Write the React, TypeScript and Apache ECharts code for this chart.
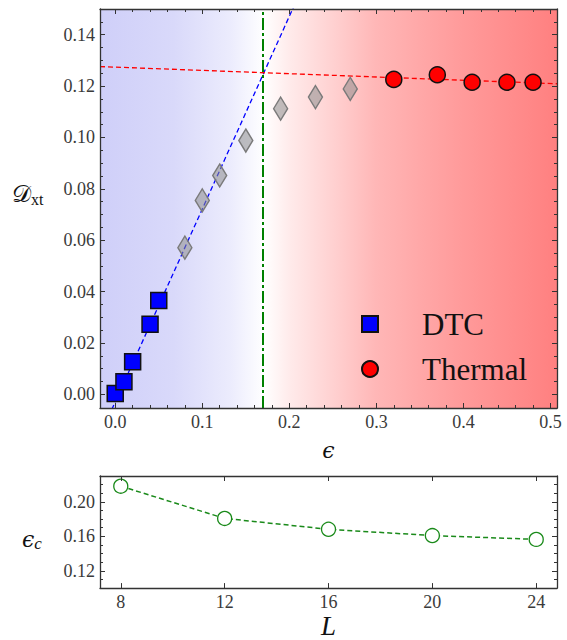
import React, { useEffect, useRef } from "react";
import * as echarts from "echarts";

// ---------- data ----------
const dtcEps = [0.0, 0.01, 0.02, 0.04, 0.05];
const dtcD = [0.0003, 0.0049, 0.0127, 0.0273, 0.0365];
const crossEps = [0.08, 0.1, 0.12, 0.15, 0.19, 0.23, 0.27];
const crossD = [0.0571, 0.0755, 0.0852, 0.0988, 0.1112, 0.1157, 0.1189];
const thermalEps = [0.32, 0.37, 0.41, 0.45, 0.48];
const thermalD = [0.1226, 0.1244, 0.1215, 0.1215, 0.1215];
const dtcFitEps = [-0.004, 0.205];
const dtcFitD = [-0.0059, 0.1509];
const thermalFitEps = [-0.0175, 0.5075];
const thermalFitD = [0.1276, 0.1209];
const epsCritical = 0.171;

const sizesL = [8, 12, 16, 20, 24];
const epsC = [0.2182, 0.1808, 0.1682, 0.1609, 0.1565];

// ---------- ticks ----------
const topXTicks = [0, 0.1, 0.2, 0.3, 0.4, 0.5];
const topYTicks = [0, 0.02, 0.04, 0.06, 0.08, 0.1, 0.12, 0.14];
const botXTicks = [8, 12, 16, 20, 24];
const botYTicks = [0.12, 0.16, 0.2];
const stepList = (a: number, b: number, s: number) => {
  const out: number[] = [];
  for (let i = 0; a + i * s <= b + 1e-9; i++) out.push(+(a + i * s).toFixed(4));
  return out;
};
const topXMinor = stepList(0, 0.5, 0.02);
const topYMinor = stepList(0, 0.145, 0.005);
const botYMinor = stepList(0.11, 0.22, 0.01);

const TOP_X = [-0.0175, 0.5075];
const TOP_Y = [-0.0053, 0.15];
const BOT_X = [7.2, 24.8];
const BOT_Y = [0.1, 0.23];

const SERIF = "Liberation Serif";
const MATH = "DejaVu Serif";
const AX = "#333";

function mkAxis(
  gridIndex: number,
  position: string,
  range: number[],
  ticks: number[],
  len: number,
  labelDigits: number | null,
  showLine: boolean
) {
  return {
    type: "value",
    gridIndex,
    position,
    min: range[0],
    max: range[1],
    z: 10,
    scale: true,
    axisLine: { show: showLine, onZero: false, lineStyle: { color: AX, width: 1.3 } },
    axisTick: {
      show: true,
      inside: true,
      length: len,
      customValues: ticks,
      lineStyle: { color: AX, width: 1 },
    },
    axisLabel:
      labelDigits === null
        ? { show: false }
        : {
            show: true,
            customValues: ticks,
            formatter: (v: number) => v.toFixed(labelDigits),
            fontFamily: SERIF,
            fontSize: 18,
            color: "#3a3a3a",
            margin: 5,
          },
    splitLine: { show: false },
    minorTick: { show: false },
  };
}

export default function App() {
  const ref = useRef<HTMLDivElement>(null);
  useEffect(() => {
    if (!ref.current) return;
    const chart = echarts.init(ref.current, null, { renderer: "svg" });

    const blueGrad = new echarts.graphic.LinearGradient(0, 0, 1, 0, [
      { offset: 0, color: "#cfcff9" },
      { offset: 0.45, color: "#d9d9fa" },
      { offset: 0.8, color: "#ececfd" },
      { offset: 1, color: "#ffffff" },
    ]);
    const redGrad = new echarts.graphic.LinearGradient(0, 0, 1, 0, [
      { offset: 0, color: "#ffffff" },
      { offset: 0.09, color: "#ffeaea" },
      { offset: 0.24, color: "#ffd0d0" },
      { offset: 0.38, color: "#ffb7b7" },
      { offset: 0.53, color: "#ffa8a8" },
      { offset: 0.68, color: "#ff9a9a" },
      { offset: 1, color: "#ff8080" },
    ]);

    const xAxes = [
      mkAxis(0, "bottom", TOP_X, topXTicks, 5, 1, true),
      mkAxis(0, "bottom", TOP_X, topXMinor, 3, null, false),
      mkAxis(0, "top", TOP_X, topXTicks, 5, null, true),
      mkAxis(0, "top", TOP_X, topXMinor, 3, null, false),
      mkAxis(1, "bottom", BOT_X, botXTicks, 5, 0, true),
      mkAxis(1, "top", BOT_X, botXTicks, 5, null, true),
    ];
    (xAxes[0] as any).name = "ϵ";
    (xAxes[0] as any).nameLocation = "middle";
    (xAxes[0] as any).nameGap = 31;
    (xAxes[0] as any).nameTextStyle = { fontFamily: MATH, fontSize: 22, fontStyle: "italic", fontWeight: "normal", color: "#111" };
    (xAxes[4] as any).name = "L";
    (xAxes[4] as any).nameLocation = "middle";
    (xAxes[4] as any).nameGap = 21;
    (xAxes[4] as any).nameTextStyle = { fontFamily: SERIF, fontSize: 27, fontStyle: "italic", color: "#111" };

    const yAxes = [
      mkAxis(0, "left", TOP_Y, topYTicks, 5, 2, true),
      mkAxis(0, "left", TOP_Y, topYMinor, 3, null, false),
      mkAxis(0, "right", TOP_Y, topYTicks, 5, null, true),
      mkAxis(0, "right", TOP_Y, topYMinor, 3, null, false),
      mkAxis(1, "left", BOT_Y, botYTicks, 5, 2, true),
      mkAxis(1, "left", BOT_Y, botYMinor, 3, null, false),
      mkAxis(1, "right", BOT_Y, botYTicks, 5, null, true),
      mkAxis(1, "right", BOT_Y, botYMinor, 3, null, false),
    ];

    const zip = (a: number[], b: number[]) => a.map((v, i) => [v, b[i]]);

    chart.setOption({
      animation: false,
      textStyle: { fontFamily: SERIF },
      grid: [
        { left: 100, top: 9, width: 457, height: 399 },
        { left: 100, top: 476, width: 457, height: 120 },
      ],
      xAxis: xAxes,
      yAxis: yAxes,
      legend: {
        data: ["DTC", "Thermal"],
        orient: "vertical",
        left: 356,
        top: 302,
        itemWidth: 16,
        itemHeight: 16,
        itemGap: 11,
        selectedMode: false,
        itemStyle: { opacity: 1 },
        textStyle: {
          fontFamily: SERIF,
          fontSize: 31,
          lineHeight: 34,
          color: "#111",
          padding: [0, 0, 0, 39],
        },
      },
      graphic: [
        {
          type: "text",
          left: 12,
          top: 182,
          style: {
            text: "{d|𝒟}{s|xt}",
            rich: {
              d: { fontFamily: MATH, fontSize: 24, fill: "#111" },
              s: { fontFamily: SERIF, fontSize: 16, fill: "#111", padding: [10, 0, 0, 0] },
            },
          },
        },
        {
          type: "text",
          left: 22,
          top: 528,
          style: {
            text: "{e|ϵ}{s|c}",
            rich: {
              e: { fontFamily: MATH, fontSize: 22, fontStyle: "italic", fill: "#111" },
              s: { fontFamily: SERIF, fontSize: 17, fontStyle: "italic", fill: "#111", padding: [8, 0, 0, 0] },
            },
          },
        },
      ],
      series: [
        {
          name: "bg",
          type: "line",
          xAxisIndex: 0,
          yAxisIndex: 0,
          data: [[TOP_X[0], TOP_Y[0]]],
          showSymbol: false,
          silent: true,
          z: 0,
          lineStyle: { opacity: 0 },
          markArea: {
            silent: true,
            data: [
              [{ xAxis: TOP_X[0], itemStyle: { color: blueGrad } }, { xAxis: epsCritical }],
              [{ xAxis: epsCritical, itemStyle: { color: redGrad } }, { xAxis: TOP_X[1] }],
            ],
          },
        },
        {
          name: "dtcFit",
          type: "line",
          xAxisIndex: 0,
          yAxisIndex: 0,
          data: zip(dtcFitEps, dtcFitD),
          showSymbol: false,
          silent: true,
          z: 3,
          lineStyle: { color: "#0000ff", width: 1.3, type: [5, 3] },
          markLine: {
            silent: true,
            symbol: "none",
            label: { show: false },
            lineStyle: { color: "#008000", width: 2, type: [12, 3, 3, 3] },
            data: [{ xAxis: epsCritical }],
          },
        },
        {
          name: "thermalFit",
          type: "line",
          xAxisIndex: 0,
          yAxisIndex: 0,
          data: zip(thermalFitEps, thermalFitD),
          showSymbol: false,
          silent: true,
          z: 3,
          lineStyle: { color: "#ff0000", width: 1.3, type: [5, 3] },
        },
        {
          name: "crossover",
          type: "scatter",
          xAxisIndex: 0,
          yAxisIndex: 0,
          data: zip(crossEps, crossD),
          symbol: "diamond",
          symbolSize: [14, 23],
          z: 4,
          itemStyle: { color: "rgba(140,140,140,0.55)", borderColor: "#7a7a7a", borderWidth: 1.5, opacity: 1 },
        },
        {
          name: "DTC",
          type: "scatter",
          xAxisIndex: 0,
          yAxisIndex: 0,
          data: zip(dtcEps, dtcD),
          symbol: "rect",
          symbolSize: 16,
          z: 5,
          itemStyle: { color: "#0000ff", borderColor: "#111", borderWidth: 1.5, opacity: 1 },
        },
        {
          name: "Thermal",
          type: "scatter",
          xAxisIndex: 0,
          yAxisIndex: 0,
          data: zip(thermalEps, thermalD),
          symbol: "circle",
          symbolSize: 16,
          z: 5,
          itemStyle: { color: "#ff0000", borderColor: "#111", borderWidth: 1.5, opacity: 1 },
        },
        {
          name: "epsC",
          type: "line",
          xAxisIndex: 4,
          yAxisIndex: 4,
          data: zip(sizesL, epsC),
          symbol: "circle",
          symbolSize: 14,
          showSymbol: true,
          z: 4,
          lineStyle: { color: "#1a8a1a", width: 1.5, type: [5, 3] },
          itemStyle: { color: "#ffffff", borderColor: "#1a8a1a", borderWidth: 1.3, opacity: 1 },
        },
      ],
    });
    return () => chart.dispose();
  }, []);
  return (
    <div
      ref={ref}
      style={{ position: "absolute", left: 0, top: 0, width: 567, height: 640, background: "#fff" }}
    />
  );
}
